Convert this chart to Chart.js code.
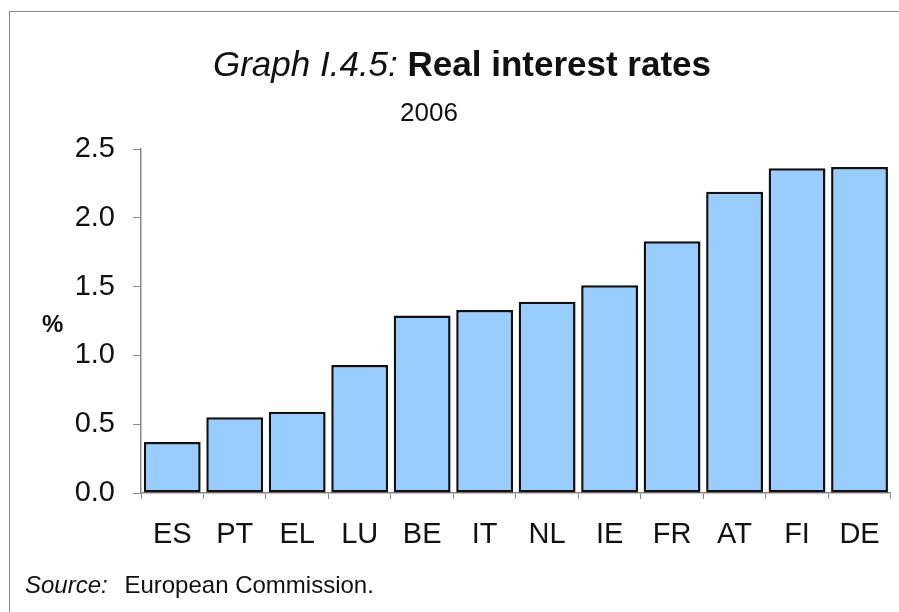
<!DOCTYPE html>
<html>
<head>
<meta charset="utf-8">
<script src="https://cdn.jsdelivr.net/npm/chart.js@4.4.1/dist/chart.umd.min.js"></script>
<style>
  html, body { margin: 0; padding: 0; background: #fff; }
  body { width: 899px; height: 612px; position: relative; overflow: hidden; font-family: "Liberation Sans", Arial, sans-serif; color: #111; }
  #frame { position: absolute; left: 9px; top: 11px; width: 900px; height: 700px; border-top: 1.5px solid #8a8a8a; border-left: 1.5px solid #8a8a8a; }
  #chartBox { position: absolute; left: 0; top: 0; width: 899px; height: 612px; }
  .txt { position: absolute; white-space: nowrap; line-height: 1; }
  #title { left: 0; width: 924px; top: 46px; text-align: center; font-size: 35px; }
  #title i { font-style: italic; }
  #title b { font-weight: bold; }
  #sub { left: 0; width: 858px; top: 99px; text-align: center; font-size: 26px; }
  #pct { left: 42px; top: 312px; font-size: 24px; font-weight: bold; }
  #source { left: 25px; top: 573px; font-size: 24px; }
  #source i { margin-right: 10px; }
</style>
</head>
<body>
<div id="frame"></div>
<div id="chartBox"><canvas id="rates" width="899" height="612"></canvas></div>
<div class="txt" id="title"><i>Graph I.4.5:</i> <b>Real interest rates</b></div>
<div class="txt" id="sub">2006</div>
<div class="txt" id="pct">%</div>
<div class="txt" id="source"><i>Source:</i> European Commission.</div>

<script>
// data
const countries = ['ES', 'PT', 'EL', 'LU', 'BE', 'IT', 'NL', 'IE', 'FR', 'AT', 'FI', 'DE'];
const realRates = [0.37, 0.55, 0.59, 0.93, 1.29, 1.33, 1.39, 1.51, 1.83, 2.19, 2.36, 2.37];
const yTicks = [0.0, 0.5, 1.0, 1.5, 2.0, 2.5];

const axisGrey = '#8a8a8a';

function createRatesChart() {
    const ctx = document.getElementById('rates').getContext('2d');
    const chart = new Chart(ctx, {
        type: 'bar',
        data: {
            labels: countries,
            datasets: [{
                label: 'Real interest rate',
                data: realRates,
                backgroundColor: '#99ccff',
                borderColor: '#111111',
                borderWidth: 2.5,
                borderSkipped: false,
                barPercentage: 0.91,
                categoryPercentage: 1.0
            }]
        },
        options: {
            responsive: false,
            animation: false,
            devicePixelRatio: 1,
            layout: {
                padding: { left: 0, top: 149, right: 8, bottom: 0 }
            },
            plugins: {
                legend: { display: false },
                tooltip: { enabled: false }
            },
            scales: {
                x: {
                    grid: {
                        offset: true,
                        drawOnChartArea: false,
                        color: axisGrey,
                        tickLength: 6
                    },
                    border: { display: true, color: axisGrey, width: 1.5 },
                    ticks: {
                        color: '#111',
                        font: { family: 'Liberation Sans', size: 29 },
                        padding: 19,
                        maxRotation: 0
                    },
                    afterFit: function (scale) { scale.height = 119; }
                },
                y: {
                    min: 0,
                    max: 2.5,
                    afterBuildTicks: function (scale) {
                        scale.ticks = yTicks.map(v => ({ value: v }));
                    },
                    grid: {
                        drawOnChartArea: false,
                        color: axisGrey,
                        tickLength: 8
                    },
                    border: { display: true, color: axisGrey, width: 1.5 },
                    ticks: {
                        color: '#111',
                        font: { family: 'Liberation Sans', size: 29 },
                        padding: 18,
                        callback: function (v) { return Number(v).toFixed(1); }
                    },
                    afterFit: function (scale) { scale.width = 141; }
                }
            }
        }
    });
}

createRatesChart();
</script>
</body>
</html>
